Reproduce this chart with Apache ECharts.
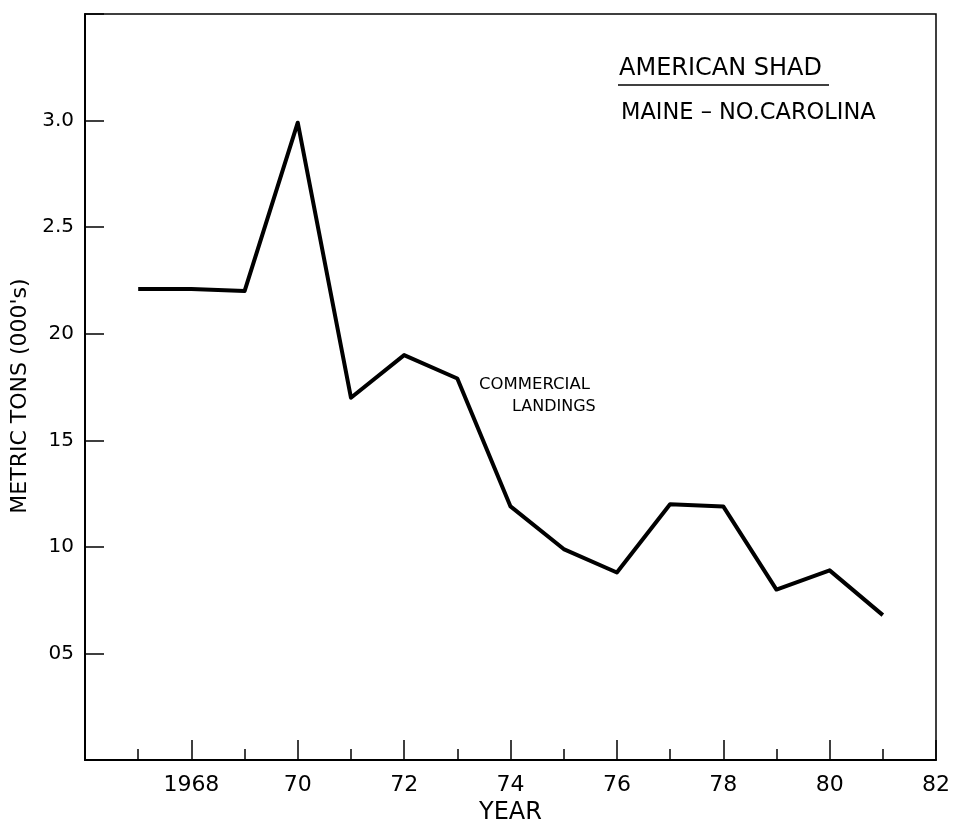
<!DOCTYPE html>
<html>
<head>
<meta charset="utf-8">
<script src="https://cdn.jsdelivr.net/npm/echarts@6/dist/echarts.min.js"></script>
<style>
html,body{margin:0;padding:0;background:#fff;}
#chart{width:953px;height:830px;}
</style>
</head>
<body>
<div id="chart"></div>
<script>
// ---- data ----
const years = [1967, 1968, 1969, 1970, 1971, 1972, 1973, 1974, 1975, 1976, 1977, 1978, 1979, 1980, 1981];
const landings = [2.21, 2.21, 2.20, 2.99, 1.70, 1.90, 1.79, 1.19, 0.99, 0.88, 1.20, 1.19, 0.80, 0.89, 0.68];
const xTickValues = [1968, 1970, 1972, 1974, 1976, 1978, 1980, 1982];
const xTickLabels = ['1968', '70', '72', '74', '76', '78', '80', '82'];
const yTickValues = [0.5, 1.0, 1.5, 2.0, 2.5, 3.0];
const yTickLabels = ['05', '10', '15', '20', '2.5', '3.0'];
const titleText = 'AMERICAN SHAD';
const subtitleText = 'MAINE \u2013 NO.CAROLINA';
const seriesLabel = ['COMMERCIAL', 'LANDINGS'];
const xAxisName = 'YEAR';
const yAxisName = "METRIC TONS (000's)";

const FONT = '"DejaVu Sans", "Liberation Sans", sans-serif';
const chart = echarts.init(document.getElementById('chart'));

function lookup(vals, labels, v) {
  for (let i = 0; i < vals.length; i++) {
    if (Math.abs(vals[i] - v) < 1e-6) return labels[i];
  }
  return '';
}

chart.setOption({
  animation: false,
  backgroundColor: '#fff',
  grid: {
    left: 85, right: 13, top: 14, bottom: 66,
    show: true, borderColor: '#000', borderWidth: 1.5, backgroundColor: 'transparent'
  },
  xAxis: {
    type: 'value', min: 1966, max: 1982, interval: 2,
    name: xAxisName, nameLocation: 'middle', nameGap: 34,
    nameTextStyle: { fontFamily: FONT, fontSize: 24, color: '#000' },
    axisLine: { show: true, lineStyle: { color: '#000', width: 2 } },
    axisTick: { show: true, inside: true, length: 20, lineStyle: { color: '#000', width: 1.5 } },
    minorTick: { show: true, splitNumber: 2, length: 11, lineStyle: { color: '#000', width: 1.5 } },
    splitLine: { show: false },
    minorSplitLine: { show: false },
    axisLabel: {
      margin: 14, fontFamily: FONT, fontSize: 22, color: '#000',
      formatter: v => lookup(xTickValues, xTickLabels, v)
    }
  },
  yAxis: {
    type: 'value', min: 0, max: 3.5, interval: 0.5,
    name: yAxisName, nameLocation: 'middle', nameGap: 46, nameRotate: 90,
    nameTextStyle: { fontFamily: FONT, fontSize: 22, color: '#000', padding: [0, 18, 0, 0] },
    axisLine: { show: true, lineStyle: { color: '#000', width: 2 } },
    axisTick: { show: true, inside: true, length: 19, lineStyle: { color: '#000', width: 1.5 } },
    splitLine: { show: false },
    axisLabel: {
      margin: 11, fontFamily: FONT, fontSize: 20, color: '#000',
      formatter: v => lookup(yTickValues, yTickLabels, v)
    }
  },
  series: [{
    type: 'line',
    data: years.map((y, i) => [y, landings[i]]),
    showSymbol: false,
    symbol: 'none',
    lineStyle: { color: '#000', width: 4, join: 'round' },
    z: 5
  }],
  graphic: [
    { type: 'text', left: 619, top: 57,
      style: { text: titleText, font: '24px ' + FONT, fill: '#000' } },
    { type: 'line', shape: { x1: 618, y1: 85, x2: 829, y2: 85 },
      style: { stroke: '#000', lineWidth: 1.5 } },
    { type: 'text', left: 621, top: 102,
      style: { text: subtitleText, font: '22.5px ' + FONT, fill: '#000' } },
    { type: 'text', left: 479, top: 376,
      style: { text: seriesLabel[0], font: '16.5px ' + FONT, fill: '#000' } },
    { type: 'text', left: 512, top: 399,
      style: { text: seriesLabel[1], font: '16px ' + FONT, fill: '#000' } }
  ]
});
</script>
</body>
</html>
